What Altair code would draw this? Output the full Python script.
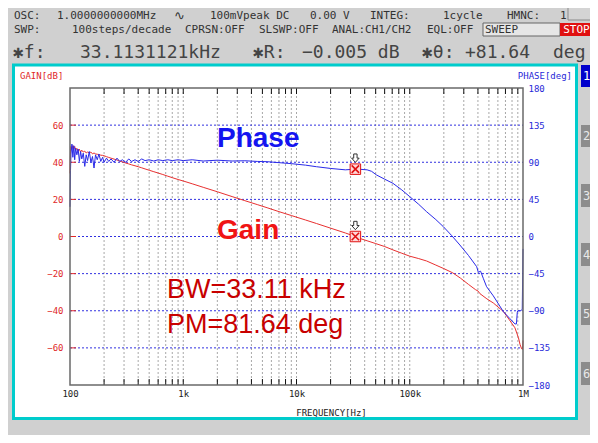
import altair as alt
import pandas as pd

# ---------------- data ----------------
gain_freq = [100, 101, 102, 104, 106, 108, 110, 112, 115, 118, 121, 124, 127, 131, 135, 139, 143, 148,
             153, 158, 163, 168, 174, 180, 187, 194, 200, 210, 220, 230, 245, 260, 275, 290, 310, 330,
             350, 375, 400, 430, 460, 500, 550, 600, 660, 730, 800, 900, 1000, 1200, 1500, 2000, 2700,
             3500, 4500, 5500, 7000, 9000, 12000, 15000, 20000, 27000, 33113, 36000, 42000, 50000, 60000,
             71000, 85000, 100000, 120000, 141000, 170000, 200000, 240000, 280000, 330000, 380000,
             401000, 417000, 480000, 547000, 630000, 670000, 760000, 849000, 912000, 942000, 973000,
             990000, 1000000]
gain_db = [34, 46, 48.5, 47, 49, 47, 48.5, 46.5, 47.5, 46, 47, 45.5, 46.5, 45.5, 46, 45, 45.5, 45,
           45.5, 44.5, 45, 44.5, 44.3, 44.2, 43.8, 43.7, 43.5, 43.0, 42.6, 42.2, 41.7, 41.2, 40.6, 40.2,
           39.6, 39.1, 38.6, 38.1, 37.6, 37.0, 36.4, 35.7, 34.9, 34.2, 33.4, 32.5, 31.7, 30.7, 29.9, 28.4,
           26.5, 24.1, 21.5, 19.3, 17.2, 15.5, 13.4, 11.3, 8.9, 7.0, 4.5, 1.9, 0.0, -1.0, -2.3, -3.8,
           -5.4, -7.2, -9.0, -10.6, -11.9, -13.2, -15.4, -17.3, -19.6, -22.4, -25.8, -28.6, -29.4,
           -30.8, -33.6, -35.8, -39.0, -40.3, -45.0, -49.2, -54.6, -58.2, -60.5, -60.8, -56]

phase_freq = [100, 101, 102, 104, 106, 108, 110, 112, 115, 118, 121, 124, 127, 131, 135, 139, 143, 148,
              153, 158, 163, 168, 174, 180, 187, 194, 200, 210, 220, 230, 245, 260, 275, 290, 310, 330,
              350, 375, 400, 430, 460, 500, 550, 600, 660, 730, 800, 900, 1000, 1200, 1500, 2000, 2700,
              3500, 4500, 5500, 7000, 9000, 12000, 15000, 20000, 27000, 33113, 36000, 42000, 46000,
              51000, 60000, 71000, 85000, 100000, 120000, 141000, 170000, 198000, 235000, 277000,
              330000, 390000, 403000, 422000, 446000, 477000, 547000, 670000, 760000, 849000, 875000,
              890000, 900000, 960000, 985000, 1000000]
phase_deg = [36, 80, 100, 112, 96, 110, 93, 107, 99, 106, 91, 103, 94, 101, 85, 99, 92, 103,
             90, 97, 83, 99, 93, 100, 91, 96, 90, 95, 91, 94, 90, 95, 91, 93, 90, 94,
             91, 93, 91, 94, 92, 93, 91.5, 93, 92, 93, 92, 93, 92, 93, 91.5, 92.5, 91.5,
             91.8, 91, 90.7, 89.5, 88.3, 86.5, 84.6, 82.5, 80.8, 81.64, 81.5, 80.8, 79,
             74.5, 69.5, 64.5, 56.5, 48.3, 39, 30, 20.5, 11.9, 1, -10.3,
             -23, -36.6, -43.4, -42, -50.7, -60.8, -72, -91, -99, -106, -106,
             -92, -90, -90, -88, -15]

gain_grid = [-60, -40, -20, 0, 20, 40, 60]
phase_ticks = [-180, -135, -90, -45, 0, 45, 90, 135, 180]
minor_freq = [200, 300, 400, 500, 600, 700, 800, 900,
              1000, 2000, 3000, 4000, 5000, 6000, 7000, 8000, 9000,
              10000, 20000, 30000, 40000, 50000, 60000, 70000, 80000, 90000,
              100000, 200000, 300000, 400000, 500000, 600000, 700000, 800000, 900000]
x_tick_values = [100, 1000, 10000, 100000, 1000000]
x_tick_labels = ["100", "1k", "10k", "100k", "1M"]

marker_freq = [33113.1121]
marker_gain = [-0.005]
marker_phase = [81.64]

assert len(gain_freq) == len(gain_db)
assert len(phase_freq) == len(phase_deg)

# ---------------- layout ----------------
W, H = 453, 297
PAD_L, PAD_T, PAD_R, PAD_B = 62, 80, 67, 50
OX, OY = 8 + PAD_L, 8 + PAD_T  # page position of view origin
MONO = "DejaVu Sans Mono"
SANS = "Liberation Sans"
RED_AX = "#e02828"
BLUE_AX = "#2828d8"

def vx(px):
    return px - OX

def vy(py):
    return py - OY

dummy = pd.DataFrame({"d": [0]})

def rect(x1, y1, x2, y2, **kw):
    return alt.Chart(dummy).mark_rect(**kw).encode(
        x=alt.value(vx(x1)), x2=alt.value(vx(x2)),
        y=alt.value(vy(y1)), y2=alt.value(vy(y2)))

def txt(s, x, y, size=11, color="#333", font=MONO, align="left", weight="normal", baseline="middle"):
    return alt.Chart(dummy).mark_text(
        text=s, font=font, fontSize=size, color=color, align=align,
        fontWeight=weight, baseline=baseline).encode(x=alt.value(vx(x)), y=alt.value(vy(y)))

pairs = list(zip(x_tick_values, x_tick_labels))
label_expr = " : ".join(
    f"datum.value >= {v} ? '{l}'" for v, l in list(reversed(pairs))[:-1]
) + f" : '{x_tick_labels[0]}'"

x_axis = alt.Axis(values=x_tick_values, labelExpr=label_expr, labelFont=MONO, labelFontSize=9,
                  labelColor="#222", ticks=False, domain=False, grid=False, labelPadding=4,
                  title="FREQUENCY[Hz]", titleFont=MONO, titleFontSize=9, titleFontWeight="normal",
                  titleColor="#222", titleX=261, titleY=27, titleBaseline="middle",
                  labelFlush=False, zindex=1)
X = alt.X("f:Q", scale=alt.Scale(type="log", domain=[100, 1000000], nice=False), axis=x_axis)

gain_axis = alt.Axis(values=gain_grid, orient="left", labelColor=RED_AX, labelFont=MONO,
                     labelFontSize=9, ticks=False, domain=False, grid=False, labelPadding=7,
                     title=None, zindex=1)
YG = alt.Y("g:Q", scale=alt.Scale(domain=[-80, 80], nice=False, zero=False), axis=gain_axis)

phase_axis = alt.Axis(values=phase_ticks, orient="right", labelColor=BLUE_AX, labelFont=MONO,
                      labelFontSize=9, ticks=False, domain=False, grid=False, labelPadding=5,
                      title=None, zindex=1)
YP = alt.Y("p:Q", scale=alt.Scale(domain=[-180, 180], nice=False, zero=False), axis=phase_axis)

gain_df = pd.DataFrame({"f": gain_freq, "g": gain_db})
phase_df = pd.DataFrame({"f": phase_freq, "p": phase_deg})
grid_df = pd.DataFrame({"g": gain_grid})
minor_df = pd.DataFrame({"f": minor_freq})
mg_df = pd.DataFrame({"f": marker_freq, "g": marker_gain})
mp_df = pd.DataFrame({"f": marker_freq, "p": marker_phase})

ARROW = "M-0.4,-1L0.4,-1L0.4,0L0.9,0L0,1L-0.9,0L-0.4,0Z"
XSHAPE = "M-1,-1L1,1M1,-1L-1,1"

# ---------------- decorations ----------------
decor = [
    rect(13.5, 65, 576.5, 418.5, fill="white", stroke="#00cccc", strokeWidth=3),
]

vgrid = alt.Chart(minor_df).mark_rule(color="#a8a8a8", strokeDash=[2, 2], strokeWidth=1).encode(x=X)
tick_bot = alt.Chart(minor_df).mark_rule(color="#111", strokeWidth=1).encode(
    x=X, y=alt.value(H - 6), y2=alt.value(H))
tick_top = alt.Chart(minor_df).mark_rule(color="#111", strokeWidth=1).encode(
    x=X, y=alt.value(0), y2=alt.value(6))

hgrid = alt.Chart(grid_df).mark_rule(color="#3030e0", strokeDash=[2, 2], strokeWidth=1).encode(
    y=YG, x=alt.value(0), x2=alt.value(W))
gtick = alt.Chart(grid_df).mark_rule(color=RED_AX, strokeWidth=1).encode(
    y=YG, x=alt.value(0), x2=alt.value(6))

gain_line = alt.Chart(gain_df).mark_line(color="#e83030", strokeWidth=1).encode(x=X, y=YG)
phase_line = alt.Chart(phase_df).mark_line(color="#2a2ae8", strokeWidth=1).encode(x=X, y=YP)

def marker(df, Y):
    sq = alt.Chart(df).mark_point(shape="square", size=110, filled=True, fill="#ffd8d8",
                                  stroke="#e01010", strokeWidth=1, opacity=1).encode(x=X, y=Y)
    xs = alt.Chart(df).mark_point(shape=XSHAPE, size=55, filled=False, stroke="#e01010",
                                  strokeWidth=1.6, opacity=1).encode(x=X, y=Y)
    ar = alt.Chart(df).mark_point(shape=ARROW, size=70, filled=True, fill="white", stroke="#333",
                                  strokeWidth=1, opacity=1, yOffset=-11).encode(x=X, y=Y)
    return [sq, xs, ar]

gain_group = alt.layer(hgrid, gtick, gain_line, *marker(mg_df, YG))
phase_group = alt.layer(phase_line, *marker(mp_df, YP))

border = alt.Chart(dummy).mark_rect(fill=None, stroke="#6a6a6a", strokeWidth=1.5).encode(
    x=alt.value(0), x2=alt.value(W), y=alt.value(0), y2=alt.value(H))

annot = [
    txt("Phase", 217, 147, size=28, color="#1414f0", font=SANS, weight="bold", baseline="alphabetic"),
    txt("Gain", 217, 239, size=28, color="#f01414", font=SANS, weight="bold", baseline="alphabetic"),
    txt("BW=33.11 kHz", 167, 298, size=27, color="#c80000", font=SANS, baseline="alphabetic"),
    txt("PM=81.64 deg", 167, 333, size=27, color="#c80000", font=SANS, baseline="alphabetic"),
    txt("GAIN[dB]", 20, 76, size=9, color=RED_AX),
    txt("PHASE[deg]", 572, 76, size=9, color=BLUE_AX, align="right"),
]

# header
header = [
    txt("OSC:", 14, 15.5), txt("1.0000000000MHz", 57, 15.5),
    txt("∿", 174, 15.5, font="DejaVu Sans", size=13), txt("100mVpeak DC", 210, 15.5),
    txt("0.00 V", 310, 15.5), txt("INTEG:", 370, 15.5), txt("1cycle", 443, 15.5),
    txt("HMNC:", 507, 15.5), txt("1", 560, 15.5),
    rect(568, 7, 593, 20, fill="#d4d4d4", stroke="#8a8a8a", strokeWidth=1),
    txt("SWP:", 14, 30), txt("100steps/decade", 72, 30), txt("CPRSN:OFF", 185, 30),
    txt("SLSWP:OFF", 259, 30), txt("ANAL:CH1/CH2", 332, 30), txt("EQL:OFF", 427, 30),
    rect(483, 23, 560, 36, fill="#e6e6e6", stroke="#666", strokeWidth=1),
    txt("SWEEP", 485, 30),
    rect(560, 23, 593, 36, fill="#e01010"),
    txt("STOP", 576.5, 30, color="white", align="center"),
    txt("✱f:", 13, 52.5, size=18, color="#444"), txt("33.1131121kHz", 80, 52.5, size=18, color="#444"),
    txt("✱R:", 253, 52.5, size=18, color="#444"), txt("−0.005 dB", 302, 52.5, size=18, color="#444"),
    txt("✱θ:", 422, 52.5, size=18, color="#444"), txt("+81.64", 465, 52.5, size=18, color="#444"),
    txt("deg", 553, 52.5, size=18, color="#444"),
]

tabs = [rect(581, 65, 592, 87, fill="#0000cc"), txt("1", 586.5, 76, size=12, color="white", align="center")]
for i, (t0, t1) in enumerate([(125, 147), (184, 207), (243, 266), (303, 325), (362, 385)], start=2):
    tabs.append(rect(581, t0, 592, t1, fill="#8c8c8c"))
    tabs.append(txt(str(i), 586.5, (t0 + t1) / 2, size=12, color="#e8e8e8", align="center"))

chart = alt.layer(
    *decor, vgrid, tick_bot, tick_top, gain_group, phase_group, border, *annot, *header, *tabs
).resolve_scale(y="independent").properties(
    width=W, height=H,
    autosize=alt.AutoSizeParams(type="none"),
    padding={"left": PAD_L, "top": PAD_T, "right": PAD_R, "bottom": PAD_B},
    background="#d0d0d0",
).configure_view(fill="white", stroke=None)

chart.save("out.html", embed_options={"renderer": "svg", "actions": False})
